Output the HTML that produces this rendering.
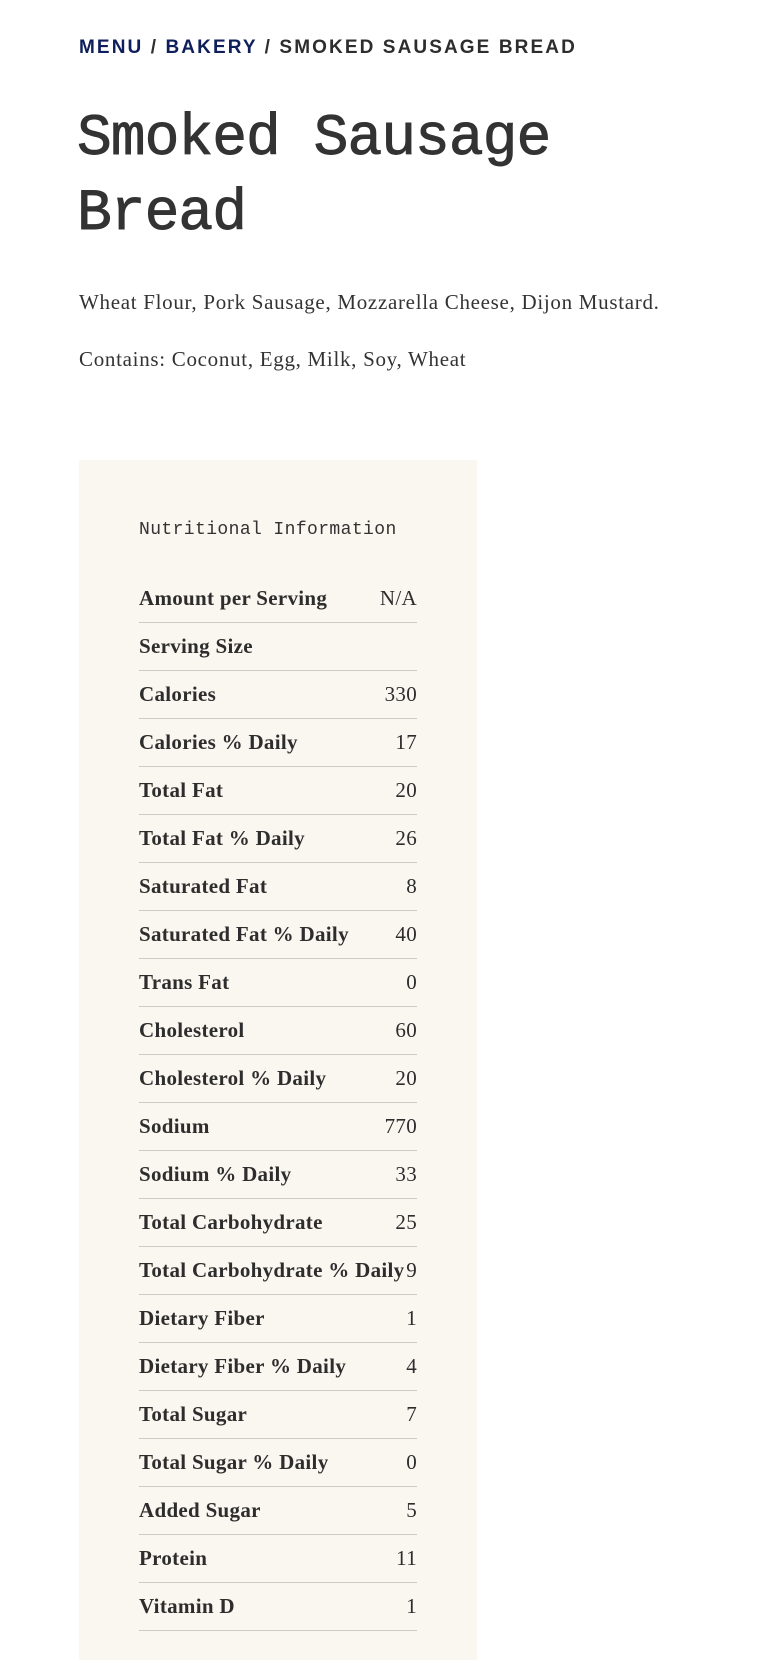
<!DOCTYPE html>
<html><head><meta charset="utf-8"><style>
body{margin:0;background:#fff;width:770px;height:1638px;overflow:hidden;color:#2d2d2d;font-family:"Liberation Serif",serif}
.bc{position:absolute;left:79px;top:37px;font-family:"Liberation Sans",sans-serif;font-weight:bold;font-size:19px;letter-spacing:2.1px;color:#2d2d2d}
.bc a{color:#0e1f5b;text-decoration:none}
h1{position:absolute;left:77px;top:102px;margin:0;font-family:"Liberation Mono",monospace;font-weight:normal;font-size:58px;letter-spacing:-1px;line-height:75px;color:#333;-webkit-text-stroke:0.9px #333}
.p{position:absolute;left:79px;font-size:21px;letter-spacing:0.7px;color:#333}
.panel{position:absolute;left:79px;top:460px;width:398px;height:1200px;background:#faf6f0}
.nt{position:absolute;left:60px;top:60px;font-family:"Liberation Mono",monospace;font-size:18px;letter-spacing:0.4px;color:#333}
.rows{position:absolute;left:60px;top:115px;width:278px}
.r{height:47px;border-bottom:1px solid #cfcac3;display:flex;justify-content:space-between;align-items:center;font-size:21px;letter-spacing:0.3px;white-space:nowrap}
.r b{font-weight:bold}
</style></head><body>
<div class="bc"><a>MENU</a> / <a>BAKERY</a> / SMOKED SAUSAGE BREAD</div>
<h1>Smoked Sausage<br>Bread</h1>
<div class="p" style="top:290px">Wheat Flour, Pork Sausage, Mozzarella Cheese, Dijon Mustard.</div>
<div class="p" style="top:347px">Contains: Coconut, Egg, Milk, Soy, Wheat</div>
<div class="panel">
<div class="nt">Nutritional Information</div>
<div class="rows">
<div class="r"><b>Amount per Serving</b><span>N/A</span></div>
<div class="r"><b>Serving Size</b><span></span></div>
<div class="r"><b>Calories</b><span>330</span></div>
<div class="r"><b>Calories % Daily</b><span>17</span></div>
<div class="r"><b>Total Fat</b><span>20</span></div>
<div class="r"><b>Total Fat % Daily</b><span>26</span></div>
<div class="r"><b>Saturated Fat</b><span>8</span></div>
<div class="r"><b>Saturated Fat % Daily</b><span>40</span></div>
<div class="r"><b>Trans Fat</b><span>0</span></div>
<div class="r"><b>Cholesterol</b><span>60</span></div>
<div class="r"><b>Cholesterol % Daily</b><span>20</span></div>
<div class="r"><b>Sodium</b><span>770</span></div>
<div class="r"><b>Sodium % Daily</b><span>33</span></div>
<div class="r"><b>Total Carbohydrate</b><span>25</span></div>
<div class="r"><b>Total Carbohydrate % Daily</b><span>9</span></div>
<div class="r"><b>Dietary Fiber</b><span>1</span></div>
<div class="r"><b>Dietary Fiber % Daily</b><span>4</span></div>
<div class="r"><b>Total Sugar</b><span>7</span></div>
<div class="r"><b>Total Sugar % Daily</b><span>0</span></div>
<div class="r"><b>Added Sugar</b><span>5</span></div>
<div class="r"><b>Protein</b><span>11</span></div>
<div class="r"><b>Vitamin D</b><span>1</span></div>
</div></div>
</body></html>
